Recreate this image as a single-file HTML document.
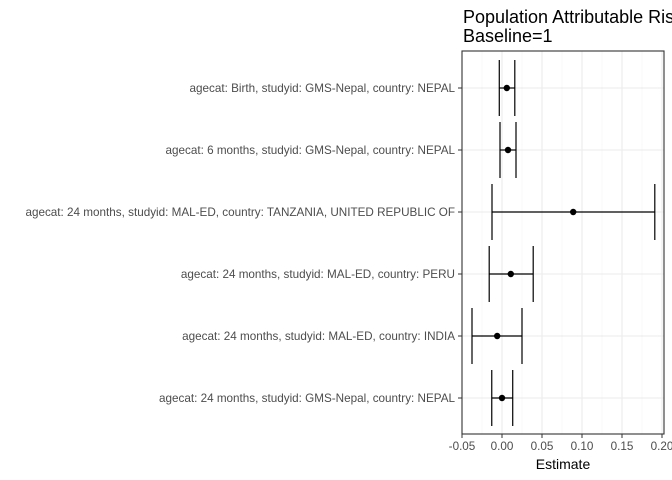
<!DOCTYPE html>
<html><head><meta charset="utf-8"><style>
body{margin:0;background:#fff;font-family:"Liberation Sans",sans-serif;}
svg{display:block}
</style></head><body>
<svg id="chart" width="672" height="480">
<text x="463" y="23" font-size="18" fill="#000">Population Attributable Risk</text>
<text x="463" y="42" font-size="18" fill="#000">Baseline=1</text>
<g id="plot"></g>
<text x="563" y="469" font-size="14" text-anchor="middle" fill="#000">Estimate</text>
</svg>
<script>
const categories=["agecat: Birth, studyid: GMS-Nepal, country: NEPAL","agecat: 6 months, studyid: GMS-Nepal, country: NEPAL","agecat: 24 months, studyid: MAL-ED, country: TANZANIA, UNITED REPUBLIC OF","agecat: 24 months, studyid: MAL-ED, country: PERU","agecat: 24 months, studyid: MAL-ED, country: INDIA","agecat: 24 months, studyid: GMS-Nepal, country: NEPAL"];
const estimates=[0.006,0.0075,0.089,0.011,-0.006,0.0];
const lower=[-0.0034,-0.0025,-0.0125,-0.016,-0.0375,-0.0128];
const upper=[0.016,0.0175,0.191,0.039,0.025,0.0134];
const xTicks=[-0.05,0,0.05,0.10,0.15,0.20];
const xTickLabels=["-0.05","0.00","0.05","0.10","0.15","0.20"];
const L=462,R=664,T=51,B=434;
const x=v=>502+v*800;
const y=i=>88+i*62;
const ns="http://www.w3.org/2000/svg";
const g=document.getElementById('plot');
function mk(t,a){const e=document.createElementNS(ns,t);for(const k in a)e.setAttribute(k,a[k]);g.appendChild(e);return e;}
let e=mk('rect',{x:L,y:T,width:R-L,height:B-T,fill:'#fff'});


for(let i=0;i<xTicks.length;i++){
  const xv=x(xTicks[i]);
  e=mk('line',{x1:xv,x2:xv,y1:T,y2:B,stroke:'#ebebeb','stroke-width':1.1});
  
  
  if(i<xTicks.length-1){const m=x((xTicks[i]+xTicks[i+1])/2);
  e=mk('line',{x1:m,x2:m,y1:T,y2:B,stroke:'#f3f3f3','stroke-width':0.6});
  
  }
  e=mk('line',{x1:xv,x2:xv,y1:B,y2:B+4,stroke:'#333'});
  
  
  e=mk('text',{x:xv,y:B+16,'font-size':11.7,'text-anchor':'middle',fill:'#4d4d4d'});
  e.textContent=xTickLabels[i];
  
  
}
for(let i=0;i<categories.length;i++){
  const yv=y(i);
  e=mk('line',{x1:L,x2:R,y1:yv,y2:yv,stroke:'#ebebeb','stroke-width':1.1});
  
  
  e=mk('line',{x1:L-4,x2:L,y1:yv,y2:yv,stroke:'#333'});
  
  
  e=mk('text',{x:L-7,y:yv+4,'font-size':11.7,'text-anchor':'end',fill:'#4d4d4d'});
  e.textContent=categories[i];
  
  
}
for(let i=0;i<categories.length;i++){
  const yv=y(i);
  e=mk('line',{x1:x(lower[i]),x2:x(upper[i]),y1:yv,y2:yv,stroke:'#000','stroke-width':1.2});
  
  
  e=mk('line',{x1:x(lower[i]),x2:x(lower[i]),y1:yv-28,y2:yv+28,stroke:'#000','stroke-width':1.2});
  
  
  e=mk('line',{x1:x(upper[i]),x2:x(upper[i]),y1:yv-28,y2:yv+28,stroke:'#000','stroke-width':1.2});
  
  
  e=mk('circle',{cx:x(estimates[i]),cy:yv,r:3.2,fill:'#000'});
  
  
}
e=mk('rect',{x:L,y:T,width:R-L,height:B-T,fill:'none',stroke:'#333','stroke-width':1.1});


</script>
</body></html>
